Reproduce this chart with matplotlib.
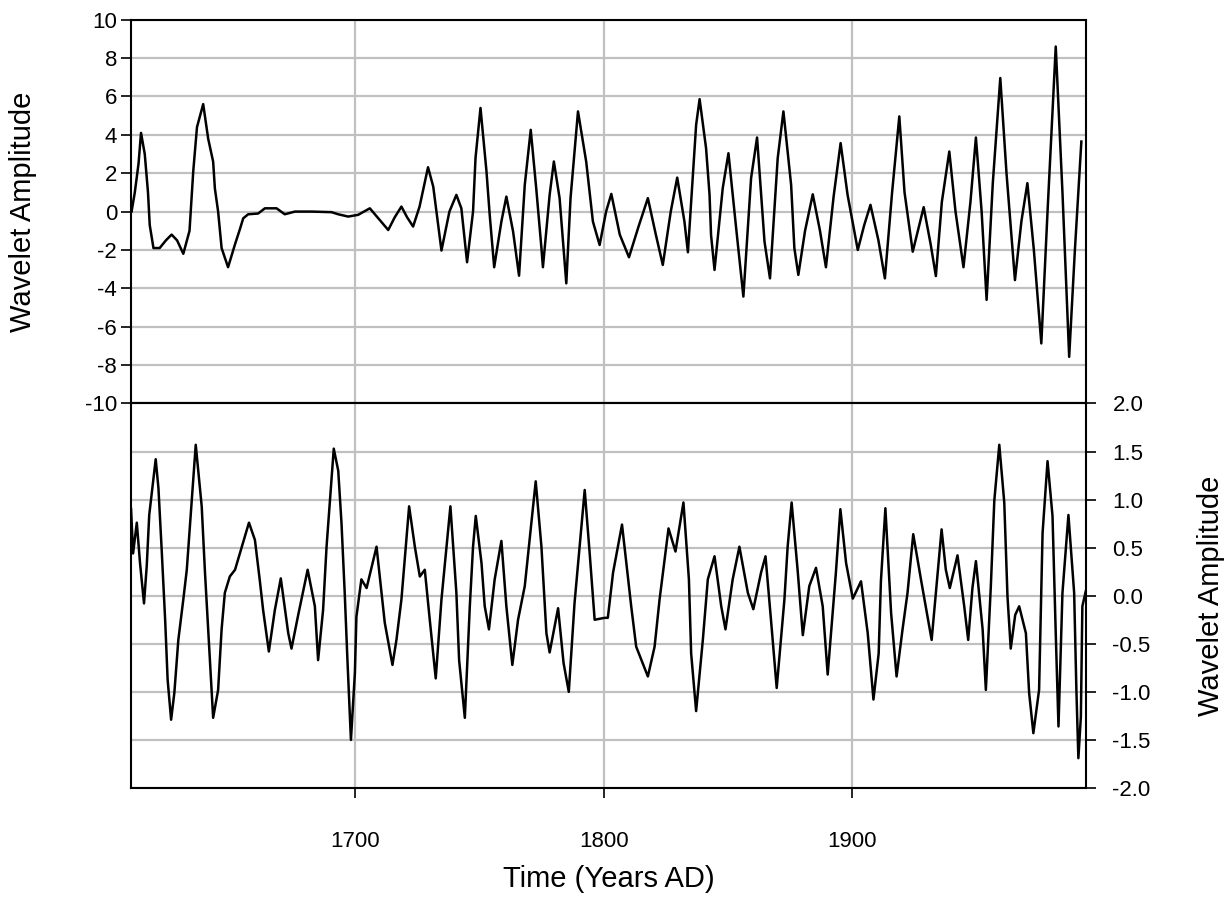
import matplotlib
matplotlib.use("Agg")
import matplotlib.pyplot as plt

plt.rcParams['font.family'] = ['Liberation Sans', 'DejaVu Sans']
plt.rcParams['axes.unicode_minus'] = False

# upper series
top_years = [1610.2, 1611.5, 1613, 1614, 1615.5, 1616.8, 1617.5, 1619, 1621.5, 1624, 1626.3, 1628.5,
             1631, 1633.5, 1635, 1636.5, 1639, 1641, 1643, 1643.7, 1645, 1646.4, 1649, 1651.8,
             1653.8, 1655.1, 1657.1, 1661.1, 1663.8, 1668.5, 1671.8, 1675.9, 1682.6, 1690.6, 1693.3,
             1697.3, 1701.3, 1706, 1709.4, 1713.4, 1716, 1718.7, 1721, 1723.4, 1726, 1729.4, 1731.5,
             1732.8, 1734.8, 1738, 1740.8, 1742.8, 1745.1, 1747.5, 1748.5, 1750.5, 1752.9, 1754.2,
             1756, 1758.9, 1760.9, 1763.6, 1766, 1768.3, 1770.7, 1772.9, 1775, 1775.6, 1778.3, 1780,
             1782.3, 1783.7, 1785, 1786.7, 1789.7, 1793, 1795.7, 1798.4, 1801, 1803.1, 1806.5, 1810.2,
             1814, 1817.8, 1821, 1823.8, 1827, 1829.6, 1832.5, 1833.9, 1836, 1837.2, 1838.6, 1841.2,
             1842.6, 1843.2, 1844.6, 1847.9, 1850.2, 1853.3, 1856.2, 1859.3, 1861.7, 1864.7, 1866.9,
             1870, 1872.3, 1875.4, 1876.7, 1878.3, 1881, 1884.1, 1887, 1889.4, 1892.5, 1895.3, 1898.1,
             1902.2, 1904.8, 1907.3, 1910.5, 1913.1, 1916, 1918.9, 1921, 1924.3, 1928.7, 1931.5,
             1933.6, 1936, 1939, 1941.5, 1944.7, 1947.5, 1949.7, 1952, 1954, 1956.5, 1959.5, 1962,
             1965.4, 1968, 1970.4, 1973, 1976, 1978.5, 1981.8, 1984.5, 1987.2, 1989.5, 1992.1]
top_vals = [0.0, 1.0, 2.5, 4.1, 3.0, 1.0, -0.7, -1.9, -1.9, -1.5, -1.2, -1.5,
            -2.2, -1.0, 2.1, 4.4, 5.6, 3.8, 2.6, 1.2, 0.0, -1.9, -2.9, -1.7,
            -0.9, -0.35, -0.14, -0.1, 0.17, 0.17, -0.14, 0.0, 0.0, -0.03, -0.14,
            -0.26, -0.17, 0.17, -0.35, -0.96, -0.3, 0.26, -0.3, -0.78, 0.26, 2.31, 1.3,
            0.0, -2.03, 0.0, 0.87, 0.17, -2.64, 0.0, 2.8, 5.4, 2.1, -0.17,
            -2.9, -0.52, 0.78, -1.04, -3.34, 1.39, 4.26, 1.22, -1.9, -2.9, 0.87, 2.61,
            0.7, -1.57, -3.74, 0.7, 5.22, 2.6, -0.52, -1.74, 0.0, 0.92, -1.2, -2.38,
            -0.8, 0.7, -1.2, -2.78, 0.0, 1.77, -0.52, -2.12, 2.09, 4.52, 5.86, 3.3,
            0.87, -1.22, -3.04, 1.22, 3.04, -0.87, -4.43, 1.74, 3.86, -1.57, -3.48,
            2.78, 5.22, 1.39, -1.9, -3.3, -1.0, 0.9, -1.0, -2.9, 0.8, 3.57, 0.87,
            -2.0, -0.7, 0.35, -1.5, -3.48, 1.0, 4.96, 1.0, -2.09, 0.23, -1.7,
            -3.36, 0.5, 3.13, 0.0, -2.9, 0.5, 3.86, 0.0, -4.6, 1.5, 6.96, 2.0,
            -3.57, -0.5, 1.48, -2.0, -6.87, 0.0, 8.6, 1.0, -7.57, -2.0, 3.65]

# lower series
bot_years = [1610, 1610.8, 1612.3, 1613.6, 1615.2, 1616.3, 1617.3, 1619.9, 1621, 1622.3, 1623.7, 1624.7,
             1626.1, 1627.4, 1629, 1631, 1632.4, 1636, 1638.4, 1639.7, 1641.1, 1643, 1645, 1646.4,
             1647.7, 1649.7, 1651.8, 1657.4, 1659.8, 1661.8, 1663.1, 1665.4, 1667.8, 1670.2, 1673.2,
             1674.5, 1677.2, 1681, 1683.9, 1685.2, 1687.2, 1688.6, 1691.5, 1693.3, 1694.6, 1695.9,
             1697, 1698.4, 1700, 1700.6, 1702.6, 1704.7, 1708.7, 1710.7, 1712, 1715.1, 1716.7, 1718.7,
             1721.8, 1724.1, 1726.1, 1728.1, 1730.1, 1732.5, 1734.8, 1738.4, 1740.8, 1741.9, 1744.2,
             1746.2, 1747.5, 1748.6, 1750.9, 1752.2, 1753.9, 1756.2, 1758.9, 1760.9, 1763.3, 1765.6,
             1768.3, 1772.7, 1775, 1777, 1778.3, 1781.7, 1783.9, 1786, 1788.3, 1792.4, 1794.4, 1796.4,
             1800.4, 1801.7, 1803.8, 1807.4, 1811.1, 1813.1, 1817.8, 1820.5, 1822.5, 1826.1, 1828.9,
             1832.1, 1834.3, 1835.2, 1837.2, 1839.9, 1841.9, 1844.6, 1847.3, 1849, 1851.9, 1854.6,
             1858, 1860.2, 1863.3, 1865.1, 1867.3, 1869.6, 1872.7, 1874, 1875.6, 1878, 1880.1, 1882.7,
             1885.4, 1888.1, 1890.1, 1893.4, 1895.2, 1897.5, 1900.2, 1903.5, 1906.2, 1908.5, 1910.6,
             1911.5, 1913.3, 1915.6, 1917.8, 1920.2, 1922.2, 1924.5, 1927.6, 1931.9, 1933.6, 1935.9,
             1937.6, 1939.2, 1942.3, 1945, 1946.6, 1948.3, 1949.7, 1952.4, 1953.7, 1955.7, 1957.1,
             1959.1, 1961.1, 1962.4, 1963.7, 1965.5, 1967.1, 1969.8, 1971.1, 1972.8, 1975.1, 1976.5,
             1978.5, 1980.5, 1981.8, 1982.9, 1984.5, 1986.9, 1989.2, 1990.1, 1990.9, 1991.9, 1992.5,
             1993.9]
bot_vals = [0.9, 0.44, 0.76, 0.34, -0.08, 0.31, 0.84, 1.42, 1.12, 0.48, -0.25, -0.875,
            -1.29, -1.01, -0.46, -0.04, 0.27, 1.57, 0.93, 0.25, -0.39, -1.27, -0.98, -0.35,
            0.03, 0.2, 0.27, 0.76, 0.58, 0.15, -0.15, -0.58, -0.15, 0.18, -0.39,
            -0.55, -0.2, 0.27, -0.11, -0.67, -0.15, 0.51, 1.53, 1.3, 0.76, 0.03,
            -0.67, -1.5, -0.8, -0.22, 0.17, 0.08, 0.51, 0.03, -0.28, -0.72, -0.46, -0.04,
            0.93, 0.51, 0.2, 0.27, -0.25, -0.86, -0.04, 0.93, 0.03, -0.67, -1.27,
            -0.11, 0.51, 0.83, 0.34, -0.11, -0.35, 0.17, 0.57, -0.11, -0.72, -0.25,
            0.1, 1.19, 0.51, -0.39, -0.59, -0.13, -0.7, -1.0, -0.08, 1.1, 0.44, -0.25,
            -0.23, -0.23, 0.24, 0.74, -0.11, -0.53, -0.84, -0.53, -0.04, 0.7, 0.46,
            0.97, 0.17, -0.6, -1.2, -0.46, 0.17, 0.41, -0.11, -0.35, 0.17, 0.51,
            0.03, -0.14, 0.24, 0.41, -0.25, -0.96, -0.04, 0.51, 0.97, 0.27, -0.41, 0.1,
            0.29, -0.11, -0.82, 0.24, 0.9, 0.34, -0.03, 0.15, -0.39, -1.08, -0.6,
            0.15, 0.91, -0.18, -0.84, -0.35, 0.03, 0.64, 0.17, -0.46, 0.03, 0.69,
            0.27, 0.08, 0.42, -0.11, -0.46, 0.08, 0.36, -0.35, -0.98, 0.1, 0.99,
            1.57, 0.97, -0.01, -0.55, -0.2, -0.11, -0.39, -1.01, -1.43, -0.98, 0.65,
            1.4, 0.83, -0.39, -1.36, 0.03, 0.84, 0.03, -0.98, -1.69, -1.26, -0.11,
            0.05]

x_ticks = [1700, 1800, 1900]
top_ticks = list(range(-10, 11, 2))
bot_ticks = [-2.0, -1.5, -1.0, -0.5, 0.0, 0.5, 1.0, 1.5, 2.0]

grid_col = '#c0c0c0'
fig = plt.figure(figsize=(12.25, 8.99), dpi=100)
ax1 = fig.add_axes([0.107, 0.5512, 0.7796, 0.4269])
ax2 = fig.add_axes([0.107, 0.1235, 0.7796, 0.4277])

for ax in (ax1, ax2):
    ax.set_xlim(1610, 1994)
    ax.set_xticks(x_ticks)
    ax.grid(True, color=grid_col, linewidth=1.6)
    ax.set_axisbelow(True)
    for sp in ax.spines.values():
        sp.set_linewidth(1.5)

ax1.plot(top_years, top_vals, color='black', linewidth=1.8)
ax1.set_ylim(-10, 10)
ax1.set_yticks(top_ticks)
ax1.tick_params(axis='x', bottom=False, labelbottom=False)
ax1.tick_params(axis='y', direction='out', length=7, width=1.2, labelsize=16, pad=3)
ax1.set_ylabel('Wavelet Amplitude', fontsize=21)
ax1.yaxis.set_label_coords(-0.098, 0.5)

ax2.plot(bot_years, bot_vals, color='black', linewidth=1.8)
ax2.set_ylim(-2, 2)
ax2.set_yticks(bot_ticks)
ax2.set_yticklabels(['%.1f' % v for v in bot_ticks])
ax2.yaxis.tick_right()
ax2.yaxis.set_label_position('right')
ax2.tick_params(axis='y', direction='out', length=7, width=1.2, labelsize=16, pad=12)
ax2.tick_params(axis='x', direction='out', length=7, width=1.2, labelsize=16, pad=24)
ax2.set_ylabel('Wavelet Amplitude', fontsize=21)
ax2.yaxis.set_label_coords(1.116, 0.5)
ax2.set_xlabel('Time (Years AD)', fontsize=21)
ax2.xaxis.set_label_coords(0.5, -0.2)

fig.savefig('out.png', dpi=100)
